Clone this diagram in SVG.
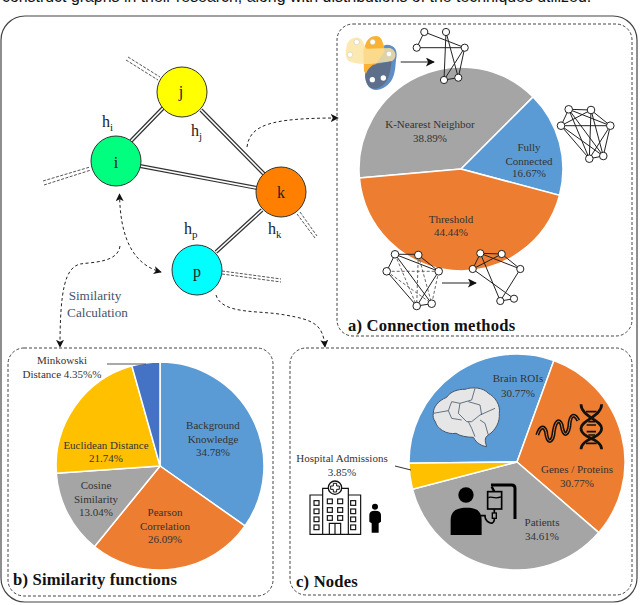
<svg xmlns="http://www.w3.org/2000/svg" width="640" height="605" viewBox="0 0 640 605">
<style>
text{font-family:"Liberation Serif","Times New Roman",serif;fill:#333;font-size:11px;text-anchor:middle}
.cap{font-family:"Liberation Sans",Arial,sans-serif;font-size:15.9px;fill:#111;text-anchor:start}
.title{font-weight:bold;font-size:16.6px;fill:#111;text-anchor:start;letter-spacing:.2px}
.sim{font-size:13.2px;fill:#44546A}
.panel{fill:none;stroke:#444;stroke-width:1;stroke-dasharray:3 2}
.node{stroke:#333;stroke-width:1}
.nl{font-size:16px;fill:#222}
.h{font-size:16px;fill:#222;text-anchor:start}
.sub{font-size:11px;fill:#222;text-anchor:start}
.dbo{stroke:#333;stroke-width:4;fill:none}
.dbi{stroke:#fff;stroke-width:1.6;fill:none}
.stub{stroke:#555;stroke-width:1;stroke-dasharray:3 1.5;fill:none}
.flow{fill:none;stroke:#222;stroke-width:1;stroke-dasharray:3 2.5}
.s{stroke:#fff;stroke-width:1.5}
.e{stroke:#222;stroke-width:1;fill:none}
.ed{stroke:#555;stroke-width:.9;stroke-dasharray:3 2;fill:none}
.v{fill:#fff;stroke:#222;stroke-width:1}
.bl{fill:none;stroke:#44546A;stroke-width:2.4;stroke-linejoin:round}
</style>
<defs>
<marker id="ah" viewBox="0 0 10 10" refX="9" refY="5" markerWidth="8" markerHeight="8" orient="auto-start-reverse" markerUnits="userSpaceOnUse"><path d="M0,0L10,5L0,10L2.5,5Z" fill="#111"/></marker>
<marker id="ahb" viewBox="0 0 10 10" refX="9" refY="5" markerWidth="11" markerHeight="9" orient="auto" markerUnits="userSpaceOnUse"><path d="M0,0L10,5L0,10L2.5,5Z" fill="#111"/></marker>
</defs>
<rect width="640" height="605" fill="#fff"/>
<text class="cap" x="2" y="1.5">construct graphs in their research, along with distributions of the techniques utilized.</text>
<rect id="frame" x="1" y="16" width="636" height="586" rx="24" fill="none" stroke="#444" stroke-width="1.2"/>
<g id="connectors">
<path class="dbo" d="M131,141L164,107M201,110L264,174M140,166L257,188M216,252L262,210"/>
<path class="dbi" d="M131,141L164,107M201,110L264,174M140,166L257,188M216,252L262,210"/>
<path class="stub" d="M128,57L160,77M126,60L158,80M43,181L90,167M44,185L91,170M297,214L315,238M300,212L317,236M222,271L281,279M222,274L281,282"/>
<path class="flow" d="M119.500,194C120,217 123,262 161,272" marker-start="url(#ah)" marker-end="url(#ah)"/>
<path class="flow" d="M120,246C118,262 95,262 80,264C65,268 60,290 60,347" marker-end="url(#ah)"/>
<path class="flow" d="M247,147C250,125 270,118 338,118" marker-end="url(#ah)"/>
<path class="flow" d="M216,295C222,315 260,310 285,315C315,320 323,325 325,347" marker-end="url(#ah)"/>
</g>
<g id="node-i"><circle class="node" cx="116" cy="161" r="25" fill="#00FF7F"/><text class="nl" x="116" y="168">i</text></g>
<g id="node-j"><circle class="node" cx="182" cy="92" r="25" fill="#FFFF00"/><text class="nl" x="181" y="97">j</text></g>
<g id="node-k"><circle class="node" cx="281" cy="192" r="25" fill="#FF8000"/><text class="nl" x="281" y="198">k</text></g>
<g id="node-p"><circle class="node" cx="197" cy="270" r="25" fill="#00FFFF"/><text class="nl" x="197" y="277">p</text></g>
<g id="labels-h">
<text class="h" x="102" y="127">h<tspan class="sub" dy="4">i</tspan></text>
<text class="h" x="191" y="136">h<tspan class="sub" dy="4">j</tspan></text>
<text class="h" x="268" y="234">h<tspan class="sub" dy="4">k</tspan></text>
<text class="h" x="184" y="234">h<tspan class="sub" dy="4">p</tspan></text>
<text class="sim" x="95" y="300">Similarity</text>
<text class="sim" x="97.500" y="317">Calculation</text>
</g>

<g id="panel-a">
<rect class="panel" x="337" y="24" width="295" height="312" rx="16"/>
<path class="s" fill="#A5A5A5" d="M461,169L359.400,177.900A102,102 0 0 1 533.100,96.900Z"/>
<path class="s" fill="#5B9BD5" d="M461,169L533.100,96.900A102,102 0 0 1 559.500,195.400Z"/>
<path class="s" fill="#ED7D31" d="M461,169L559.500,195.400A102,102 0 0 1 359.400,177.900Z"/>
<text x="430" y="128">K-Nearest Neighbor</text><text x="430" y="142">38.89%</text>
<text x="529" y="151">Fully</text><text x="529" y="165">Connected</text><text x="529" y="177">16.67%</text>
<text x="451" y="223">Threshold</text><text x="451" y="236">44.44%</text>
<text class="title" x="348" y="331">a) Connection methods</text>
<g transform="translate(340,28) scale(.3333)">
<path d="M140,50C165,50 175,70 168,95C165,130 165,160 130,180C100,195 80,180 76,150C70,120 100,60 140,50Z" fill="#4F81BD" opacity=".9"/>
<path d="M78,45C85,25 115,15 125,35C130,50 138,62 130,75C115,100 95,125 85,143L72,130L70,65Z" fill="#F9B233"/>
<path d="M20,55C22,35 45,22 62,32C72,40 72,55 80,62L150,60C170,65 172,92 155,100L90,108C60,108 35,105 25,98C15,88 16,70 20,55Z" fill="#FBE3A0" opacity=".82"/>
<path d="M100,110L155,100C150,130 150,165 115,180C95,188 80,175 76,150C76,135 85,120 100,110Z" fill="#5E6F8C"/>
<circle cx="50" cy="42" r="8" fill="#fff" stroke="#aaa"/><circle cx="98" cy="42" r="8" fill="#fff" stroke="#aaa"/><circle cx="30" cy="80" r="8" fill="#fff" stroke="#aaa"/><circle cx="147" cy="78" r="8" fill="#fff" stroke="#aaa"/><circle cx="97" cy="155" r="8" fill="#fff"/><circle cx="130" cy="150" r="8" fill="#fff"/>
</g>
<path class="e" d="M400.700,62H434" marker-end="url(#ahb)"/>
<path class="e" d="M442,283H476" marker-end="url(#ahb)"/>
<g id="graph-knn">
<path class="e" d="M424.300,32L416.700,47.700M424.300,32L464.700,47.700M446,32L444,80M446,32L458.300,77.700M416.700,47.700H464.700M464.700,47.700L444,80M464.700,47.700L458.300,77.700M444,80L458.300,77.700"/>
<g class="v"><circle cx="424.300" cy="32" r="3.600"/><circle cx="446" cy="32" r="3.600"/><circle cx="416.700" cy="47.700" r="3.600"/><circle cx="464.700" cy="47.700" r="3.600"/><circle cx="444" cy="80" r="3.600"/><circle cx="458.300" cy="77.700" r="3.600"/></g>
</g>
<g id="graph-full">
<path class="e" d="M568.700,109.300L591,110M568.700,109.300L561,125.700M568.700,109.300L610.300,125.700M568.700,109.300L589.300,158.700M568.700,109.300L603.300,156M591,110L561,125.700M591,110L610.300,125.700M591,110L589.300,158.700M591,110L603.300,156M561,125.700H610.300M561,125.700L589.300,158.700M561,125.700L603.300,156M610.300,125.700L589.300,158.700M610.300,125.700L603.300,156M589.300,158.700L603.300,156"/>
<g class="v"><circle cx="568.700" cy="109.300" r="3.800"/><circle cx="591" cy="110" r="3.800"/><circle cx="561" cy="125.700" r="3.800"/><circle cx="610.300" cy="125.700" r="3.800"/><circle cx="589.300" cy="158.700" r="3.800"/><circle cx="603.300" cy="156" r="3.800"/></g>
</g>
<g id="graph-thr-a">
<path class="ed" d="M386.700,271.300H438.700M418.300,255L416.700,306M418.300,255L431.700,303.700M438.700,271.300L431.700,303.700M386.700,271.300L431.700,303.700M395,254.300L416.700,306"/>
<path class="e" d="M395,254.300H418.300M395,254.300L438.700,271.300M418.300,255L438.700,271.300M395,254.300L386.700,271.300M386.700,271.300L416.700,306M438.700,271.300L416.700,306M395,254.300L431.700,303.700M416.700,306L431.700,303.700"/>
<g class="v"><circle cx="395" cy="254.300" r="3.800"/><circle cx="418.300" cy="255" r="3.800"/><circle cx="386.700" cy="271.300" r="3.800"/><circle cx="438.700" cy="271.300" r="3.800"/><circle cx="416.700" cy="306" r="3.800"/><circle cx="431.700" cy="303.700" r="3.800"/></g>
</g>
<g id="graph-thr-b">
<path class="e" d="M480.300,253.300L501.700,254M480.300,253.300L520.300,269M501.700,254L520.300,269M480.300,253.300L472.700,269M501.700,254L472.700,269M472.700,269L514,298.700M520.300,269L500.300,301M480.300,253.300L500.300,301M500.300,301L514,298.700"/>
<g class="v"><circle cx="480.300" cy="253.300" r="3.600"/><circle cx="501.700" cy="254" r="3.600"/><circle cx="472.700" cy="269" r="3.600"/><circle cx="520.300" cy="269" r="3.600"/><circle cx="500.300" cy="301" r="3.600"/><circle cx="514" cy="298.700" r="3.600"/></g>
</g>
</g>

<g id="panel-b">
<rect class="panel" x="8" y="348" width="265" height="248" rx="16"/>
<path class="s" fill="#5B9BD5" d="M160,466V362A104,104 0 0 1 245,525.900Z"/>
<path class="s" fill="#ED7D31" d="M160,466L245,525.900A104,104 0 0 1 94.400,546.700Z"/>
<path class="s" fill="#A5A5A5" d="M160,466L94.400,546.700A104,104 0 0 1 56.300,473.300Z"/>
<path class="s" fill="#FFC000" d="M160,466L56.300,473.300A104,104 0 0 1 131.900,365.900Z"/>
<path class="s" fill="#4472C4" d="M160,466L131.900,365.900A104,104 0 0 1 160,362Z"/>
<path d="M107,364H146" stroke="#555" stroke-width="1.200"/>
<text x="62" y="364">Minkowski</text><text x="62" y="378">Distance 4.35%%</text>
<text x="213" y="429">Background</text><text x="213" y="443">Knowledge</text><text x="213" y="456">34.78%</text>
<text x="106" y="449">Euclidean Distance</text><text x="106" y="462">21.74%</text>
<text x="96" y="489">Cosine</text><text x="96" y="503">Similarity</text><text x="96" y="516">13.04%</text>
<text x="165" y="516">Pearson</text><text x="165" y="530">Correlation</text><text x="165" y="543">26.09%</text>
<text class="title" x="13" y="585">b) Similarity functions</text>
</g>

<g id="panel-c">
<rect class="panel" x="290" y="348" width="342" height="247" rx="16"/>
<path class="s" fill="#5B9BD5" d="M517,462L409,463.300A108,108 0 0 1 553.900,360.500Z"/>
<path class="s" fill="#ED7D31" d="M517,462L553.900,360.500A108,108 0 0 1 598.800,532.600Z"/>
<path class="s" fill="#A5A5A5" d="M517,462L598.800,532.600A108,108 0 0 1 412.500,489.200Z"/>
<path class="s" fill="#FFC000" d="M517,462L412.500,489.200A108,108 0 0 1 409,463.300Z"/>
<path d="M395,466L411,470" stroke="#333" stroke-width="1"/>
<text x="518" y="382">Brain ROIs</text><text x="518" y="397">30.77%</text>
<text x="577" y="473">Genes / Proteins</text><text x="577" y="487">30.77%</text>
<text x="542" y="526">Patients</text><text x="542" y="540">34.61%</text>
<text x="342" y="462">Hospital Admissions</text><text x="342" y="476">3.85%</text>
<text class="title" x="296" y="587">c) Nodes</text>
<g id="brain" transform="translate(430,380) scale(.3333)">
<path d="M10,100C10,80 25,62 50,52C60,35 85,27 105,28C125,20 160,22 175,40C195,50 212,75 208,100C210,125 198,150 175,165C165,172 163,178 170,200C155,198 140,190 130,172C110,172 90,168 78,160C50,165 20,145 16,125C10,118 8,108 10,100Z" fill="#E7E6E6" stroke="#44546A" stroke-width="3"/>
<path class="bl" d="M10,100L55,92L65,65L90,70L125,60L135,25M90,70L85,100L110,125L125,125L150,105L195,85M55,92L65,115L95,120M115,125L125,145L135,170M150,120L165,130L175,165M115,65L150,75L155,105"/>
</g>
<g id="dna" transform="translate(430,380) scale(.3333)" fill="none">
<path d="M453,73C453,110 515,120 515,145C515,175 453,175 453,208M515,73C515,110 453,120 453,145C453,175 515,175 515,208" stroke="#111" stroke-width="8"/>
<path d="M468,95H500M475,125H495M470,135H498M470,155H498M475,165H495M468,190H500" stroke="#111" stroke-width="5"/>
<path d="M322,165C330,140 342,135 348,155C352,190 365,190 370,165C375,120 388,115 395,135C400,170 412,170 418,140C420,100 435,100 445,122" stroke="#111" stroke-width="12"/>
<path d="M322,165C330,140 342,135 348,155C352,190 365,190 370,165C375,120 388,115 395,135C400,170 412,170 418,140C420,100 435,100 445,122" stroke="#ED7D31" stroke-width="3"/>
</g>
<g id="patient" transform="translate(285,345) scale(.3333)">
<circle cx="543" cy="450" r="23" fill="#000"/>
<path d="M497,570V525C497,495 520,488 545,488C570,488 590,495 590,525V570Z" fill="#000"/>
<path d="M618,420H680Q690,420 690,430V522" fill="none" stroke="#000" stroke-width="9"/>
<path d="M620,425L628,440" stroke="#000" stroke-width="7"/>
<rect x="608" y="440" width="42" height="52" fill="#A5A5A5" stroke="#000" stroke-width="5"/>
<path d="M610,458C618,452 628,464 648,456" fill="none" stroke="#000" stroke-width="4"/>
<rect x="622" y="504" width="12" height="16" fill="#A5A5A5" stroke="#000" stroke-width="4"/>
<path d="M628,492V504M628,520V525C625,545 600,530 600,512H588" fill="none" stroke="#000" stroke-width="5"/>
</g>
<g id="hospital" transform="translate(300,470) scale(.3333)">
<path d="M68,75H30V193H182V75H145V55H68ZM68,75V193M145,75V193M88,193V160H122V193M105,160V193" fill="#fff" stroke="#111" stroke-width="3.500"/>
<circle cx="105" cy="53" r="20" fill="#fff" stroke="#111" stroke-width="4"/>
<path d="M100,40H110V48H118V58H110V66H100V58H92V48H100Z" fill="#fff" stroke="#111" stroke-width="3"/>
<g fill="none" stroke="#111" stroke-width="3.500">
<rect x="42" y="92" width="15" height="14"/><rect x="42" y="117" width="15" height="14"/><rect x="42" y="141" width="15" height="14"/><rect x="42" y="165" width="15" height="14"/>
<rect x="82" y="87" width="15" height="14"/><rect x="113" y="87" width="15" height="14"/><rect x="82" y="113" width="15" height="14"/><rect x="113" y="113" width="15" height="14"/><rect x="82" y="137" width="15" height="14"/><rect x="113" y="137" width="15" height="14"/>
<rect x="152" y="92" width="15" height="14"/><rect x="152" y="117" width="15" height="14"/><rect x="152" y="141" width="15" height="14"/><rect x="152" y="165" width="15" height="14"/>
</g>
<circle cx="225" cy="110" r="9" fill="#000"/>
<path d="M208,155V135Q208,122 225,122Q243,122 243,135V155L236,160V188H215V160Z" fill="#000"/>
</g>
</g>
</svg>
